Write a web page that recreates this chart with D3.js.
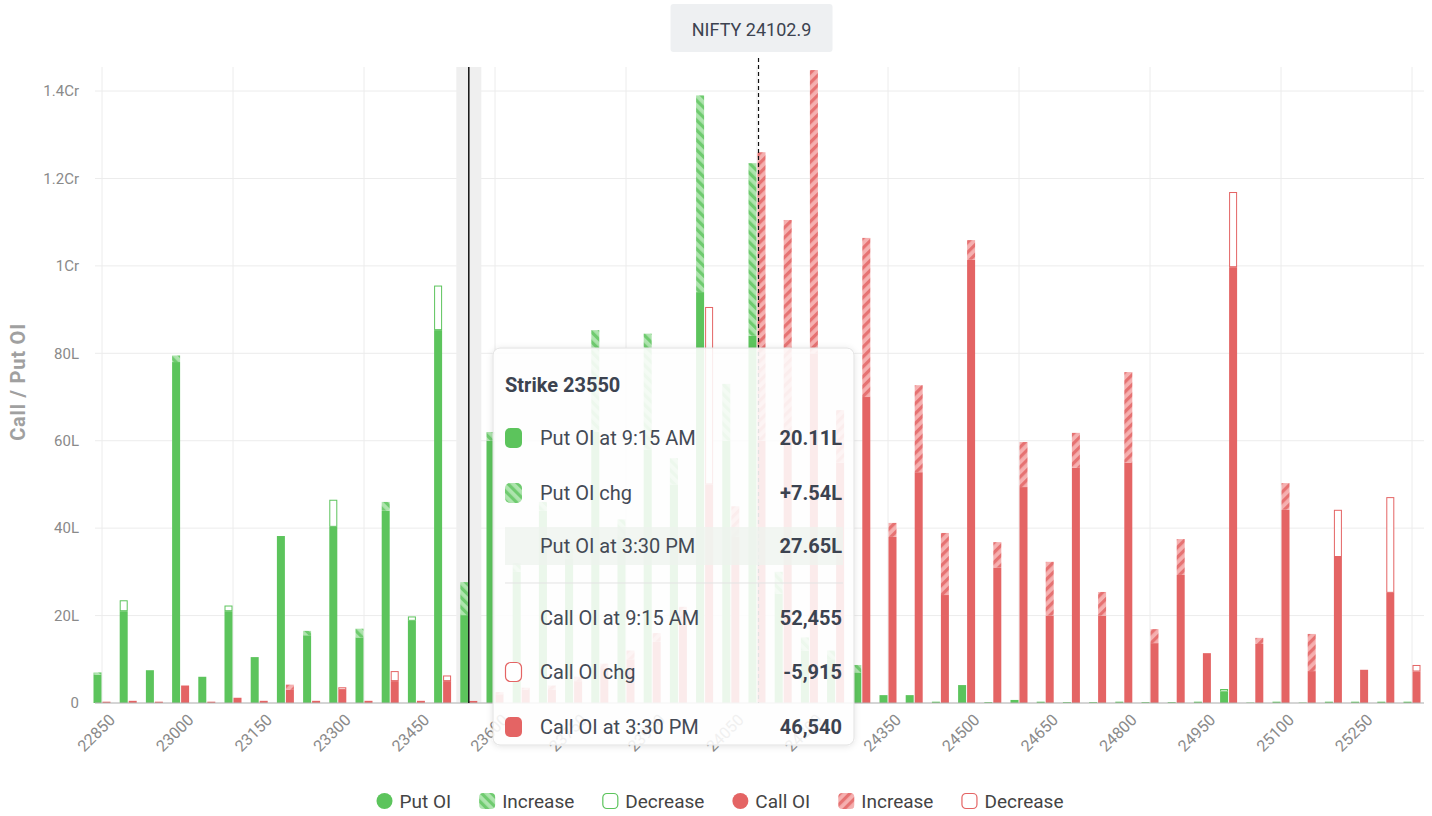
<!DOCTYPE html>
<html>
<head>
<meta charset="utf-8">
<script src="https://cdn.jsdelivr.net/npm/d3@7"></script>
<style>
  body { margin: 0; background: #fff; font-family: Roboto, "Noto Sans", sans-serif; }
</style>
</head>
<body>
<svg id="chart" width="1432" height="816"></svg>
<script>
// strikes and OI (in lakhs)
const strikes = [22850, 22900, 22950, 23000, 23050, 23100, 23150, 23200, 23250, 23300,
  23350, 23400, 23450, 23500, 23550, 23600, 23650, 23700, 23750, 23800,
  23850, 23900, 23950, 24000, 24050, 24100, 24150, 24200, 24250, 24300,
  24350, 24400, 24450, 24500, 24550, 24600, 24650, 24700, 24750, 24800,
  24850, 24900, 24950, 25000, 25050, 25100, 25150, 25200, 25250, 25300, 25350];
const putOpen = [6.5, 23.5, 7.5, 78, 6, 22.3, 10.5, 38.2, 15.5, 46.5,
  15, 44, 19.8, 95.5, 20.11, 60, 30, 44, 33, 62,
  38, 58, 50, 94, 60, 84, 25, 12, 10, 7,
  1.8, 1.8, 0.3, 4.1, 0.2, 0.7, 0.3, 0.2, 0.2, 0.3,
  0.2, 0.2, 0.3, 3.2, 0.1, 0.3, 0.1, 0.3, 0.3, 0.3, 0.3];
const putClose = [7, 21, 7.5, 79.5, 6, 21, 10.5, 38.2, 16.5, 40.3,
  17, 46, 18.8, 85.3, 27.65, 62, 32, 46, 36, 85.3,
  42, 84.5, 56, 139, 73, 123.5, 30, 15, 12, 8.7,
  1.8, 1.8, 0.3, 4.1, 0.2, 0.7, 0.3, 0.2, 0.2, 0.3,
  0.2, 0.2, 0.3, 2.6, 0.1, 0.3, 0.1, 0.3, 0.3, 0.3, 0.3];
const callOpen = [0.3, 0.5, 0.3, 4, 0.3, 1.2, 0.5, 3, 0.5, 3.6,
  0.5, 7.3, 0.5, 6.3, 0.52, 2, 3, 3, 5, 8,
  10, 14, 18, 90.6, 38, 60, 60, 80, 55, 70,
  38, 52.8, 24.7, 101.4, 31, 49.4, 20, 53.8, 20, 55,
  13.7, 29.3, 11.4, 116.9, 13.5, 44.2, 7.3, 44.2, 7.6, 47.1, 8.7];
const callClose = [0.3, 0.5, 0.3, 4, 0.3, 1.2, 0.5, 4.2, 0.5, 3,
  0.5, 5, 0.5, 5, 0.47, 2.5, 3.5, 4, 6, 9,
  12, 16, 22, 50, 45, 126, 110.5, 144.8, 67, 106.4,
  41.2, 72.7, 38.9, 105.9, 36.8, 59.7, 32.3, 61.8, 25.4, 75.7,
  16.9, 37.5, 11.4, 99.7, 14.9, 50.3, 15.8, 33.4, 7.6, 25.2, 7.2];

const yTicks = [0, 20, 40, 60, 80, 100, 120, 140];
const yTickLabels = ["0", "20L", "40L", "60L", "80L", "1Cr", "1.2Cr", "1.4Cr"];
const xLabelStrikes = [22850, 23000, 23150, 23300, 23450, 23600, 23750, 23900, 24050,
  24200, 24350, 24500, 24650, 24800, 24950, 25100, 25250];
const gridStrikes = [22850, 23100, 23350, 23600, 23850, 24100, 24350, 24600, 24850, 25100, 25350];
const spotPrice = 24102.9;
const hoverStrike = 23550;

const tipLabels = ["Put OI at 9:15 AM", "Put OI chg", "Put OI at 3:30 PM",
  "Call OI at 9:15 AM", "Call OI chg", "Call OI at 3:30 PM"];
const tipValues = ["20.11L", "+7.54L", "27.65L", "52,455", "-5,915", "46,540"];
const tipIcons = ["putSolid", "putInc", null, null, "callDec", "callSolid"];

const legendLabels = ["Put OI", "Increase", "Decrease", "Call OI", "Increase", "Decrease"];
const legendIcons = ["putSolid", "putInc", "putDec", "callSolid", "callInc", "callDec"];

const GREEN = "#5cc45c", GREEN_LT = "#aee4ae";
const RED = "#e46464", RED_LT = "#f5b0b0";

const svg = d3.select("#chart");
const x = d3.scaleLinear().domain([22850, 25350]).range([102, 1412]);
const y = d3.scaleLinear().domain([0, 145.5]).range([703, 67]);
const plotL = 95, plotR = 1424;

// hatch patterns
const defs = svg.append("defs");
function hatch(id, bg, fg, angle) {
  const p = defs.append("pattern").attr("id", id)
    .attr("patternUnits", "userSpaceOnUse").attr("width", 7).attr("height", 7)
    .attr("patternTransform", "rotate(" + angle + ")");
  p.append("rect").attr("width", 7).attr("height", 7).attr("fill", bg);
  p.append("rect").attr("width", 3.2).attr("height", 7).attr("fill", fg);
}
hatch("hatchG", GREEN_LT, "#6fcb6f", -45);
hatch("hatchR", RED_LT, "#e67272", 45);
const shadow = defs.append("filter").attr("id", "shadow")
  .attr("x", "-10%").attr("y", "-10%").attr("width", "120%").attr("height", "120%");
shadow.append("feDropShadow").attr("dx", 0).attr("dy", 1).attr("stdDeviation", 3)
  .attr("flood-color", "#000").attr("flood-opacity", 0.12);

// grid
svg.append("g").selectAll("line").data(yTicks).enter().append("line")
  .attr("x1", plotL).attr("x2", plotR)
  .attr("y1", d => y(d)).attr("y2", d => y(d))
  .attr("stroke", "#ececec");
svg.append("g").selectAll("line").data(gridStrikes).enter().append("line")
  .attr("x1", d => x(d)).attr("x2", d => x(d))
  .attr("y1", y(145.5)).attr("y2", y(0))
  .attr("stroke", "#ececec");

// hovered category band
svg.append("rect").attr("x", x(hoverStrike) - 12.5).attr("width", 25)
  .attr("y", y(145.5)).attr("height", y(0) - y(145.5)).attr("fill", "#efefef");

// bars
const bars = svg.append("g");
function drawBar(cx, open, close, color, pattern) {
  const lo = Math.min(open, close), hi = Math.max(open, close);
  bars.append("rect").attr("x", cx).attr("width", 8)
    .attr("y", y(lo)).attr("height", y(0) - y(lo)).attr("fill", color);
  if (close > open) {
    bars.append("rect").attr("x", cx).attr("width", 8)
      .attr("y", y(hi)).attr("height", y(lo) - y(hi)).attr("fill", "url(#" + pattern + ")");
  } else if (close < open) {
    bars.append("rect").attr("x", cx + 0.5).attr("width", 7)
      .attr("y", y(hi) + 0.5).attr("height", Math.max(0, y(lo) - y(hi) - 1))
      .attr("fill", "#fff").attr("stroke", color).attr("stroke-width", 1);
  }
}
strikes.forEach((s, i) => {
  drawBar(x(s) - 8.5, putOpen[i], putClose[i], GREEN, "hatchG");
  drawBar(x(s) + 0.5, callOpen[i], callClose[i], RED, "hatchR");
});

// baseline
svg.append("line").attr("x1", plotL).attr("x2", plotR)
  .attr("y1", y(0)).attr("y2", y(0)).attr("stroke", "#b5b5b5");

// crosshair
svg.append("line").attr("x1", x(hoverStrike)).attr("x2", x(hoverStrike))
  .attr("y1", y(145.5)).attr("y2", y(0)).attr("stroke", "#111").attr("stroke-width", 1.5);

// spot line + label
svg.append("line").attr("x1", x(spotPrice)).attr("x2", x(spotPrice))
  .attr("y1", 58).attr("y2", y(0))
  .attr("stroke", "#111").attr("stroke-width", 1.2).attr("stroke-dasharray", "4,3");
svg.append("rect").attr("x", x(spotPrice) - 88).attr("y", 4).attr("width", 162).attr("height", 48)
  .attr("rx", 3).attr("fill", "#eef0f2");
svg.append("text").attr("x", x(spotPrice) - 7).attr("y", 36)
  .attr("text-anchor", "middle").attr("font-size", 18).attr("fill", "#3c4350")
  .text("NIFTY " + spotPrice);

// y axis labels
svg.append("g").selectAll("text").data(yTicks).enter().append("text")
  .attr("x", 79).attr("y", d => y(d)).attr("dy", "0.35em")
  .attr("text-anchor", "end").attr("font-size", 15).attr("fill", "#8a8a8a")
  .text((d, i) => yTickLabels[i]);
svg.append("text").attr("transform", "translate(25,382) rotate(-90)")
  .attr("text-anchor", "middle").attr("font-size", 20).attr("font-weight", "bold")
  .attr("letter-spacing", 0.8).attr("fill", "#a0a0a0")
  .text("Call / Put OI");

// x axis labels
svg.append("g").selectAll("text").data(xLabelStrikes).enter().append("text")
  .attr("transform", d => "translate(" + (x(d) + 14) + ",721) rotate(-45)")
  .attr("text-anchor", "end").attr("font-size", 16).attr("fill", "#8a8a8a")
  .text(d => d);

// icon helper
function icon(g, kind, w, h, r) {
  const isPut = kind.startsWith("put");
  const c = isPut ? GREEN : RED;
  const el = g.append("rect").attr("width", w).attr("height", h).attr("rx", r);
  if (kind.endsWith("Solid")) el.attr("fill", c);
  else if (kind.endsWith("Inc")) el.attr("fill", "url(#" + (isPut ? "hatchG" : "hatchR") + ")");
  else el.attr("x", 0.5).attr("y", 0.5).attr("width", w - 1).attr("height", h - 1)
    .attr("fill", "#fff").attr("stroke", c).attr("stroke-width", 1.2);
}

// legend
const leg = svg.append("g").attr("transform", "translate(0,801)");
let lx = 0;
const items = [];
legendLabels.forEach((lab, i) => {
  const g = leg.append("g");
  icon(g.append("g").attr("transform", "translate(0,-8)"), legendIcons[i], 16, 16,
    legendIcons[i].endsWith("Solid") ? 8 : 4);
  const t = g.append("text").attr("x", 23).attr("dy", "0.35em")
    .attr("font-size", 19).attr("fill", "#444").text(lab);
  items.push({ g: g, w: 23 + t.node().getComputedTextLength() });
});
const gap = 28;
const total = d3.sum(items, d => d.w) + gap * (items.length - 1);
lx = 720 - total / 2;
items.forEach(it => { it.g.attr("transform", "translate(" + lx + ",0)"); lx += it.w + gap; });

// tooltip
const tip = svg.append("g").attr("transform", "translate(493,348)");
tip.append("rect").attr("width", 361).attr("height", 397).attr("rx", 7)
  .attr("fill", "rgba(255,255,255,0.87)").attr("stroke", "#e2e2e2")
  .attr("filter", "url(#shadow)");
tip.append("text").attr("x", 12).attr("y", 44).attr("font-size", 20)
  .attr("font-weight", "bold").attr("fill", "#3c4350").text("Strike " + hoverStrike);
const rowY = [90, 145, 198, 270, 324, 379];
tip.append("rect").attr("x", 12).attr("y", rowY[2] - 19).attr("width", 338).attr("height", 38)
  .attr("fill", "#eef3ee").attr("opacity", 0.75);
tip.append("line").attr("x1", 12).attr("x2", 350).attr("y1", 235).attr("y2", 235)
  .attr("stroke", "#e3e3e3");
tipLabels.forEach((lab, i) => {
  if (tipIcons[i]) icon(tip.append("g").attr("transform", "translate(12," + (rowY[i] - 10) + ")"),
    tipIcons[i], 17, 20, 5);
  tip.append("text").attr("x", 47).attr("y", rowY[i]).attr("dy", "0.35em")
    .attr("font-size", 20).attr("fill", "#444a55").text(lab);
  tip.append("text").attr("x", 349).attr("y", rowY[i]).attr("dy", "0.35em")
    .attr("text-anchor", "end").attr("font-size", 20).attr("font-weight", "bold")
    .attr("fill", "#3c4350").text(tipValues[i]);
});
</script>
</body>
</html>
